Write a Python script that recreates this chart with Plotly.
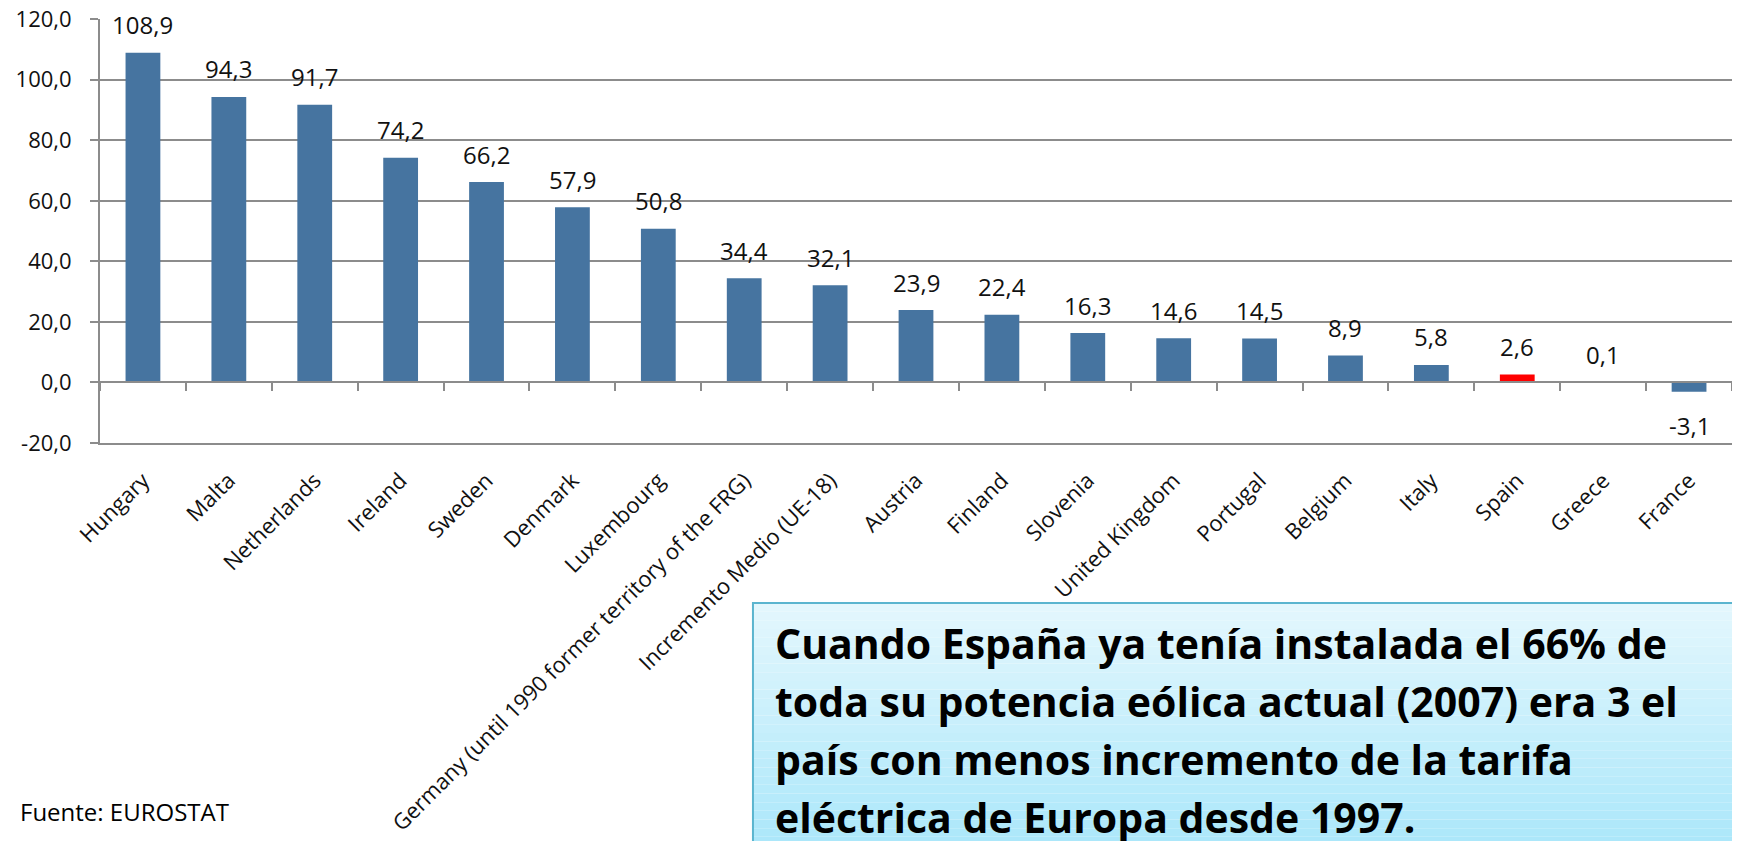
import plotly.graph_objects as go

countries = ["Hungary", "Malta", "Netherlands", "Ireland", "Sweden", "Denmark", "Luxembourg",
             "Germany (until 1990 former territory of the FRG)", "Incremento Medio (UE-18)",
             "Austria", "Finland", "Slovenia", "United Kingdom", "Portugal", "Belgium",
             "Italy", "Spain", "Greece", "France"]
values = [108.9, 94.3, 91.7, 74.2, 66.2, 57.9, 50.8, 34.4, 32.1, 23.9, 22.4, 16.3,
          14.6, 14.5, 8.9, 5.8, 2.6, 0.1, -3.1]
highlight = "Spain"
y_ticks = [-20, 0, 20, 40, 60, 80, 100, 120]

box_lines = ["Cuando España ya tenía instalada el 66% de",
             "toda su potencia eólica actual (2007) era 3 el",
             "país con menos incremento de la tarifa",
             "eléctrica de Europa desde 1997."]
source = "Fuente: EUROSTAT"

FONT = "Open Sans"
BLUE = "#4674A0"
GRID = "#8C8C8C"


def fmt(v):
    return f"{v:.1f}".replace(".", ",")


colors = ["#FF0000" if c == highlight else BLUE for c in countries]

fig = go.Figure()
fig.add_trace(go.Bar(x=countries, y=values, marker_color=colors, width=0.405,
                     marker_line_width=0, hoverinfo="x+y"))
# second category axis only draws the boundary ticks on the zero line
fig.add_trace(go.Scatter(x=countries, y=[0] * len(countries), xaxis="x2", mode="markers",
                         marker_opacity=0, hoverinfo="skip", showlegend=False))

for c, v in zip(countries, values):
    fig.add_annotation(x=c, y=v, text=fmt(v), showarrow=False,
                       yshift=28 if v >= 0 else -34, font=dict(family=FONT, size=24, color="#111"))

# text box with a vertical gradient (stacked stripes)
top, bot = -0.3774, -0.99
n = 30
c0, c1 = (227, 247, 253), (168, 230, 250)
for i in range(n):
    t = i / (n - 1)
    col = "rgb(%d,%d,%d)" % tuple(round(a + (b - a) * t) for a, b in zip(c0, c1))
    y0 = top + (bot - top) * i / n
    y1 = top + (bot - top) * (i + 1) / n
    fig.add_shape(type="rect", xref="paper", yref="paper", x0=0.4001, x1=1.01, y0=y1, y1=y0,
                  fillcolor=col, line_width=0, layer="above")
fig.add_shape(type="rect", xref="paper", yref="paper", x0=0.4001, x1=1.01, y0=bot, y1=top,
              line=dict(color="#5BB5CF", width=2), fillcolor="rgba(0,0,0,0)", layer="above")

for i, line in enumerate(box_lines):
    fig.add_annotation(xref="paper", yref="paper", x=0.4124, y=-0.4717 - i * 0.1368,
                       xanchor="left", yanchor="middle", text=line, showarrow=False,
                       font=dict(family=FONT, size=41, color="black", weight="bold"))

fig.add_annotation(xref="paper", yref="paper", x=-0.0502, y=-0.870, xanchor="left",
                   yanchor="middle", text=source, showarrow=False,
                   font=dict(family=FONT, size=24, color="black"))

fig.update_layout(
    width=1724, height=833,
    margin=dict(l=92, r=0, t=11, b=398, pad=0, autoexpand=False),
    plot_bgcolor="white", paper_bgcolor="white",
    showlegend=False,
    font=dict(family=FONT, size=22, color="black"),
    xaxis=dict(type="category", tickangle=-45, showgrid=False, ticks="", automargin=False,
               showline=True, linecolor=GRID, linewidth=2, ticklabelstandoff=14,
               tickfont=dict(family=FONT, size=22, color="#111"),
               range=[-0.5, len(countries) - 0.5]),
    xaxis2=dict(type="category", overlaying="x", anchor="free", position=1 / 7,
                showticklabels=False, ticks="outside", tickson="boundaries", ticklen=8,
                tickwidth=2, tickcolor=GRID, showline=True, linecolor=GRID, linewidth=2,
                showgrid=False, automargin=False, range=[-0.5, len(countries) - 0.5]),
    yaxis=dict(range=[-20, 120.05], tickvals=y_ticks, ticktext=[fmt(v) for v in y_ticks],
               showgrid=True, gridcolor=GRID, gridwidth=2, zeroline=False, automargin=False,
               showline=True, linecolor=GRID, linewidth=2, ticklabeloverflow="allow",
               ticks="outside", ticklen=8, tickwidth=2, tickcolor=GRID, ticklabelstandoff=14,
               tickfont=dict(family=FONT, size=22, color="#111")),
)

fig.write_html("out.html")
